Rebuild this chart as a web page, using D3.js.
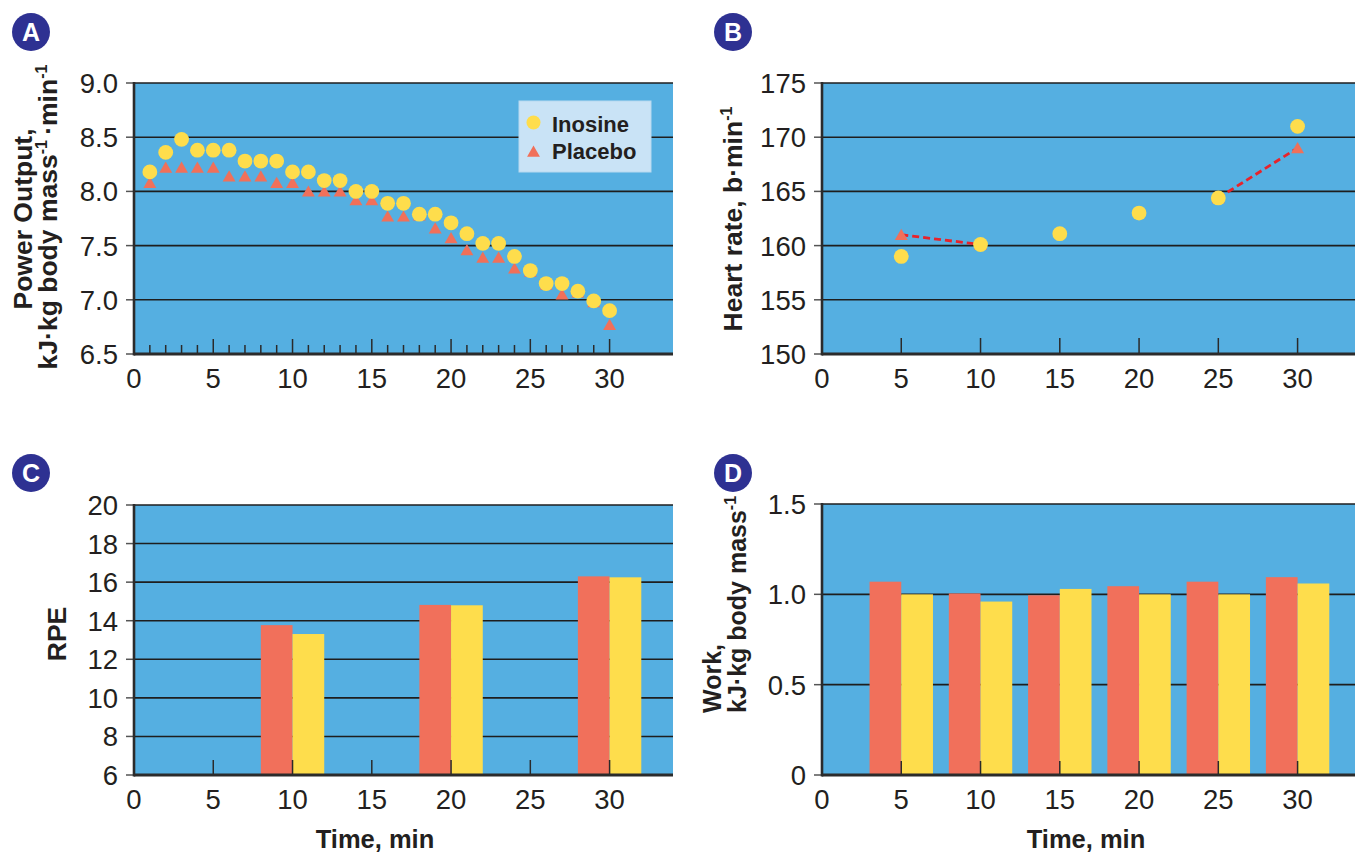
<!DOCTYPE html>
<html>
<head>
<meta charset="utf-8">
<script src="https://cdn.jsdelivr.net/npm/d3@7"></script>
<style>
  body { margin: 0; background: #fff; }
  svg { display: block; }
  text { font-family: "Liberation Sans", Arial, Helvetica, sans-serif; fill: #231f20; }
</style>
</head>
<body>
<svg id="chart" width="1355" height="852"></svg>
<script>
// ---- data ----
// A: power output, every minute
var timeA = [1, 2, 3, 4, 5, 6, 7, 8, 9, 10, 11, 12, 13, 14, 15, 16, 17, 18, 19, 20, 21, 22, 23, 24, 25, 26, 27, 28, 29, 30];
var powerInosine = [8.18, 8.36, 8.48, 8.38, 8.38, 8.38, 8.28, 8.28, 8.28, 8.18, 8.18, 8.10, 8.10, 8.00, 8.00, 7.89, 7.89, 7.79, 7.79, 7.71, 7.61, 7.52, 7.52, 7.40, 7.27, 7.15, 7.15, 7.08, 6.99, 6.90];
var powerPlacebo = [8.08, 8.22, 8.22, 8.22, 8.22, 8.14, 8.14, 8.14, 8.08, 8.08, 8.00, 8.00, 8.00, 7.92, 7.92, 7.77, 7.77, 7.78, 7.66, 7.57, 7.46, 7.39, 7.39, 7.29, 7.26, 7.14, 7.05, 7.07, 6.98, 6.77];

// B: heart rate
var timeB = [5, 10, 15, 20, 25, 30];
var hrInosine = [159, 160.1, 161.1, 163, 164.4, 171];
var hrPlacebo = [161, 160.1, null, null, 164.4, 169];

// C: RPE
var timeC = [10, 20, 30];
var rpePlacebo = [13.77, 14.82, 16.3];
var rpeInosine = [13.31, 14.8, 16.25];

// D: work
var timeD = [5, 10, 15, 20, 25, 30];
var workPlacebo = [1.07, 1.005, 0.995, 1.045, 1.07, 1.095];
var workInosine = [1.0, 0.96, 1.03, 1.0, 1.0, 1.06];

// ticks
var xTickLabels = [0, 5, 10, 15, 20, 25, 30];
var yTicksA = [6.5, 7.0, 7.5, 8.0, 8.5, 9.0];
var yTicksB = [150, 155, 160, 165, 170, 175];
var yTicksC = [6, 8, 10, 12, 14, 16, 18, 20];
var yTicksD = [0, 0.5, 1.0, 1.5];

// ---- styles ----
var BLUE = "#55afe1", YELLOW = "#fedd4c", SALMON = "#f0705a", NAVY = "#2e3192";
var PW = 539;
var TICK_FONT = 27.5, TITLE_FONT = 26.5;

var svg = d3.select("#chart");

function makePanel(o) {
    var g = svg.append("g");
    var x = d3.scaleLinear().domain([0, 34]).range([o.left, o.left + PW]);
    var y = d3.scaleLinear().domain([o.yTicks[0], o.yTicks[o.yTicks.length - 1]]).range([o.bottom, o.top]);

    g.append("rect")
        .attr("x", o.left).attr("y", o.top)
        .attr("width", PW).attr("height", o.bottom - o.top)
        .attr("fill", BLUE);

    // horizontal grid
    g.selectAll(".grid").data(o.yTicks.slice(1)).enter().append("line")
        .attr("x1", o.left).attr("x2", o.left + PW)
        .attr("y1", d => y(d)).attr("y2", d => y(d))
        .attr("stroke", "#1e1e1e").attr("stroke-width", 1.6);

    var marks = svg.append("g");
    var top = svg.append("g");

    function finish() {
        // inner x ticks
        top.selectAll(".xt").data(o.innerTicks).enter().append("line")
            .attr("x1", d => x(d)).attr("x2", d => x(d))
            .attr("y1", o.bottom).attr("y2", d => o.bottom - (d % 5 === 0 ? o.major : o.minor))
            .attr("stroke", "#2a2a2a").attr("stroke-width", 1.5);
        // outer y ticks
        top.selectAll(".yt").data(o.yTicks).enter().append("line")
            .attr("x1", o.left - 8).attr("x2", o.left)
            .attr("y1", d => y(d)).attr("y2", d => y(d))
            .attr("stroke", "#555").attr("stroke-width", 1.5);
        // axes lines
        top.append("line")
            .attr("x1", o.left).attr("x2", o.left)
            .attr("y1", o.top - 1).attr("y2", o.bottom + 1.5)
            .attr("stroke", "#2b2b2b").attr("stroke-width", 2.6);
        top.append("line")
            .attr("x1", o.left).attr("x2", o.left + PW)
            .attr("y1", o.bottom).attr("y2", o.bottom)
            .attr("stroke", "#2b2b2b").attr("stroke-width", 3);
        // tick labels
        top.selectAll(".yl").data(o.yTicks).enter().append("text")
            .attr("x", o.left - 16).attr("y", d => y(d) + 10)
            .attr("text-anchor", "end").attr("font-size", TICK_FONT)
            .text(o.yFormat);
        top.selectAll(".xl").data(xTickLabels).enter().append("text")
            .attr("x", d => x(d)).attr("y", o.bottom + 34)
            .attr("text-anchor", "middle").attr("font-size", TICK_FONT)
            .text(d => d);
    }
    return { x: x, y: y, marks: marks, top: top, finish: finish };
}

function badge(cx, cy, letter) {
    svg.append("circle").attr("cx", cx).attr("cy", cy).attr("r", 19).attr("fill", NAVY);
    svg.append("text").attr("x", cx).attr("y", cy + 9)
        .attr("text-anchor", "middle").attr("font-size", 25).attr("font-weight", "bold")
        .style("fill", "#fff").text(letter);
}

// rotated axis title; parts = [[text, isSuperscript], ...]
function yTitle(x, y, parts, anchor, size) {
    var t = svg.append("text")
        .attr("transform", "translate(" + x + "," + y + ") rotate(-90)")
        .attr("text-anchor", anchor || "middle")
        .attr("font-size", size || TITLE_FONT).attr("font-weight", "bold");
    var shifted = false;
    parts.forEach(p => {
        var s = t.append("tspan").text(p[0]);
        if (p[1] && !shifted) { s.attr("dy", -10).attr("font-size", 16); shifted = true; }
        else if (p[1]) { s.attr("font-size", 16); }
        else if (shifted) { s.attr("dy", 10); shifted = false; }
    });
}

var tri = d3.symbol(d3.symbolTriangle, 72);

// ---- A ----
var A = makePanel({ left: 134, top: 83, bottom: 354, yTicks: yTicksA, yFormat: d => d.toFixed(1),
    innerTicks: timeA, major: 15, minor: 9 });
A.marks.selectAll(".pt").data(timeA).enter().append("path")
    .attr("d", tri)
    .attr("transform", (d, i) => "translate(" + A.x(d) + "," + (A.y(powerPlacebo[i]) + 1.5) + ")")
    .attr("fill", SALMON);
A.marks.selectAll(".ic").data(timeA).enter().append("circle")
    .attr("cx", d => A.x(d)).attr("cy", (d, i) => A.y(powerInosine[i]))
    .attr("r", 7.4).attr("fill", YELLOW);
A.finish();

// legend
var lg = A.top.append("g");
lg.append("rect").attr("x", 519).attr("y", 101).attr("width", 132).attr("height", 71)
    .attr("fill", "#c9e3f6").attr("stroke", "#b7d9f0").attr("stroke-width", 1);
lg.append("circle").attr("cx", 533.5).attr("cy", 122.5).attr("r", 7).attr("fill", YELLOW);
lg.append("path").attr("d", tri).attr("transform", "translate(533.5,153)").attr("fill", SALMON);
lg.append("text").attr("x", 552).attr("y", 131.5).attr("font-size", 22).attr("font-weight", "bold").text("Inosine");
lg.append("text").attr("x", 552).attr("y", 158.5).attr("font-size", 22).attr("font-weight", "bold").text("Placebo");

// ---- B ----
var B = makePanel({ left: 822, top: 83, bottom: 354, yTicks: yTicksB, yFormat: d => d,
    innerTicks: [5, 10, 15, 20, 25, 30], major: 16, minor: 16 });
var hrLine = d3.line()
    .defined(d => d[1] !== null)
    .x(d => B.x(d[0])).y(d => B.y(d[1]));
B.marks.append("path")
    .attr("d", hrLine(timeB.map((t, i) => [t, hrPlacebo[i]])))
    .attr("fill", "none").attr("stroke", "#e8232b").attr("stroke-width", 2.8)
    .attr("stroke-dasharray", "7,4");
B.marks.selectAll(".pt").data(timeB.filter((t, i) => hrPlacebo[i] !== null)).enter().append("path")
    .attr("d", tri)
    .attr("transform", d => "translate(" + B.x(d) + "," + (B.y(hrPlacebo[timeB.indexOf(d)]) + 1.5) + ")")
    .attr("fill", SALMON);
B.marks.selectAll(".ic").data(timeB).enter().append("circle")
    .attr("cx", d => B.x(d)).attr("cy", (d, i) => B.y(hrInosine[i]))
    .attr("r", 7.4).attr("fill", YELLOW);
B.finish();

// ---- C ----
var C = makePanel({ left: 134, top: 505, bottom: 775, yTicks: yTicksC, yFormat: d => d,
    innerTicks: [5, 10, 15, 20, 25, 30], major: 15, minor: 15 });
function bars(P, times, vals, offset, color) {
    P.marks.selectAll(null).data(times).enter().append("rect")
        .attr("x", d => P.x(d + offset))
        .attr("width", d => P.x(d + offset + 2) - P.x(d + offset))
        .attr("y", (d, i) => P.y(vals[i]))
        .attr("height", (d, i) => P.y.range()[0] - P.y(vals[i]))
        .attr("fill", color);
}
bars(C, timeC, rpePlacebo, -2, "#f1705b");
bars(C, timeC, rpeInosine, 0, YELLOW);
C.finish();

// ---- D ----
var D = makePanel({ left: 822, top: 504, bottom: 775, yTicks: yTicksD, yFormat: d => d === 0 ? "0" : d.toFixed(1),
    innerTicks: [5, 10, 15, 20, 25, 30], major: 14, minor: 14 });
bars(D, timeD, workPlacebo, -2, "#f1705b");
bars(D, timeD, workInosine, 0, YELLOW);
D.finish();

// ---- titles & badges ----
badge(31, 32, "A");
badge(733, 32, "B");
badge(31, 473, "C");
badge(733, 473, "D");

yTitle(32, 219, [["Power Output,"]]);
yTitle(57, 217, [["kJ\u00b7kg body mass"], ["-1", true], ["\u2009\u00b7min"], ["-1", true]]);
yTitle(742, 219, [["Heart rate, b\u00b7min"], ["-1", true]]);
yTitle(66, 634, [["RPE"]]);
yTitle(721, 713, [["Work,"]], "start", 25);
yTitle(746, 713, [["kJ\u00b7kg body mass"], ["-1", true]], "start", 25);

svg.append("text").attr("x", 375).attr("y", 848).attr("text-anchor", "middle")
    .attr("font-size", 25.5).attr("font-weight", "bold").text("Time, min");
svg.append("text").attr("x", 1086).attr("y", 848).attr("text-anchor", "middle")
    .attr("font-size", 25.5).attr("font-weight", "bold").text("Time, min");
</script>
</body>
</html>
